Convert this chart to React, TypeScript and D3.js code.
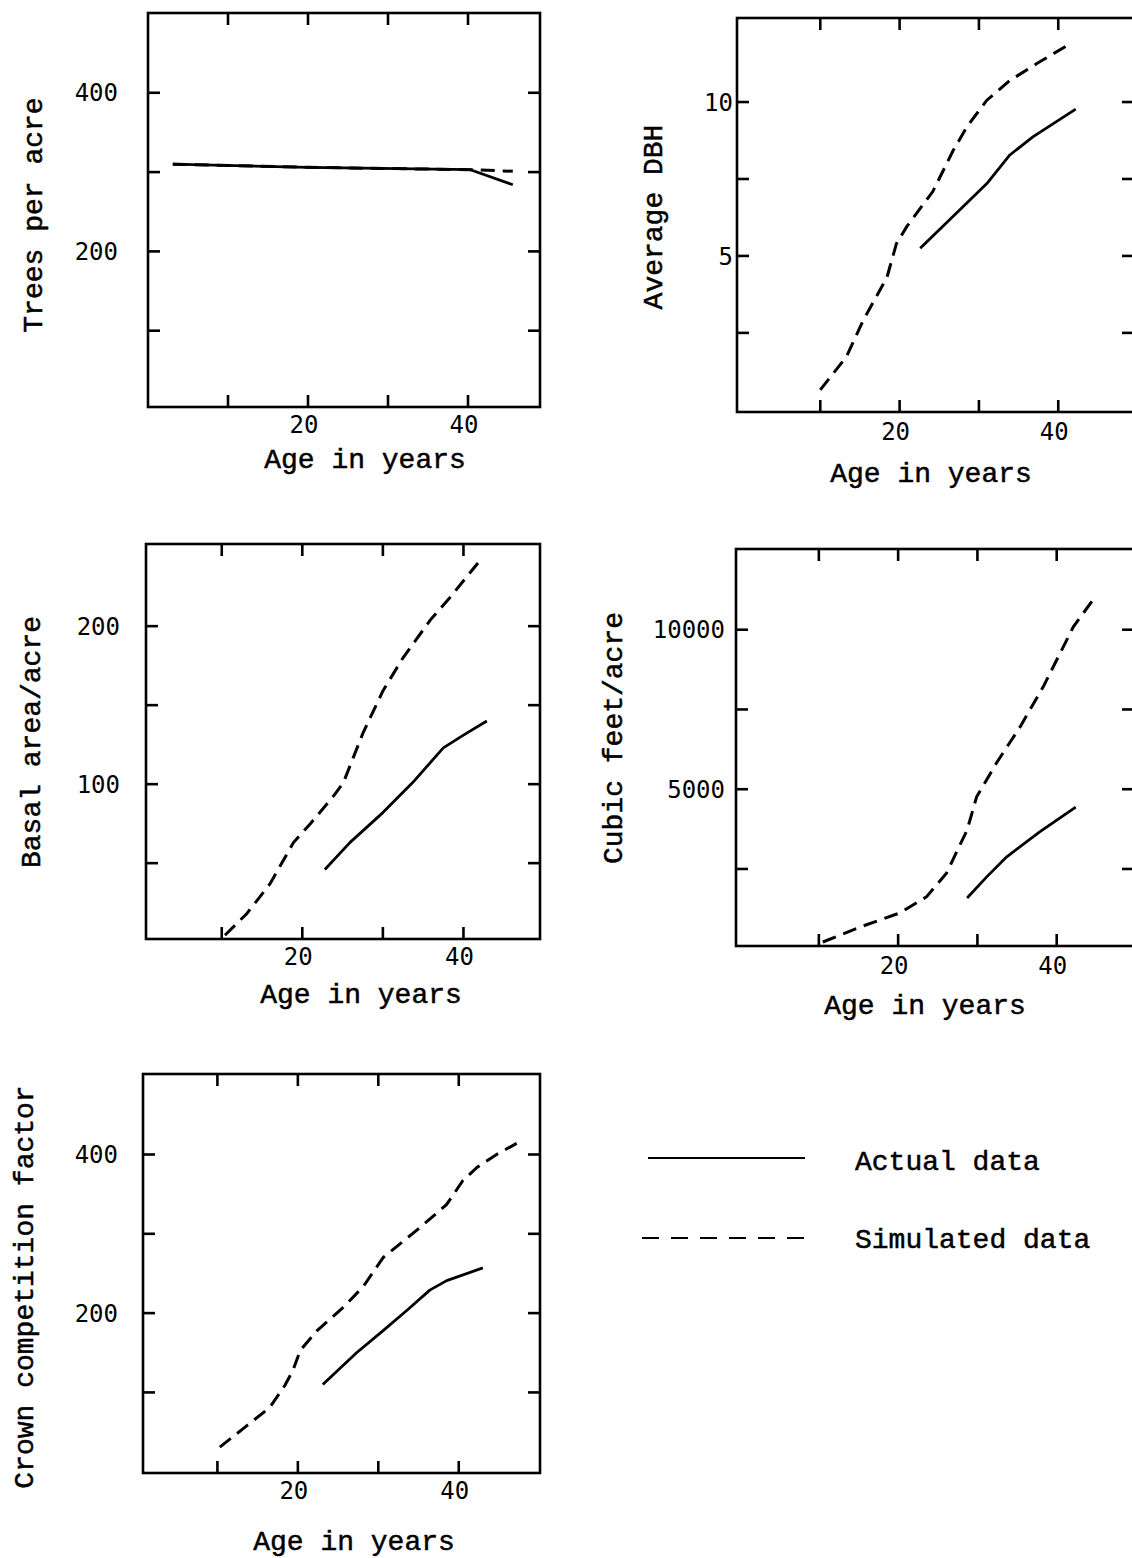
import React from "react";
import * as d3 from "d3";

// ---------- data (age in years, value) ----------
const treesActual: [number, number][] = [[3.1, 310], [20, 306], [40.3, 303], [45.6, 284]];
const treesSimulated: [number, number][] = [[3.1, 310], [20, 306], [40.3, 303], [45.6, 301]];

const dbhActual: [number, number][] = [[22.6, 5.25], [27.6, 6.5], [31, 7.35], [33.9, 8.28], [36.8, 8.87], [42.2, 9.77]];
const dbhSimulated: [number, number][] = [
  [10, 0.65], [13.3, 1.73], [15.4, 2.9], [18.4, 4.3], [19.6, 5.4], [20.9, 5.95], [24.2, 7.1],
  [26.7, 8.4], [28.5, 9.2], [31, 10.06], [33.9, 10.7], [37.3, 11.25], [41.2, 11.85],
];

const basalActual: [number, number][] = [[22.8, 46], [25.9, 63], [30, 82], [33.7, 101], [37.5, 123], [40, 131], [42.9, 140]];
const basalSimulated: [number, number][] = [
  [10.4, 4.4], [13.1, 18], [16, 37], [18.9, 63], [21, 75], [23.8, 92], [25.1, 101], [27.5, 132],
  [30, 159], [32.5, 180], [35.9, 204], [38.3, 218], [41.8, 240],
];

const cubicActual: [number, number][] = [[28.7, 1590], [31.2, 2260], [33.7, 2880], [37.9, 3670], [42.4, 4440]];
const cubicSimulated: [number, number][] = [
  [10.5, 210], [15.2, 680], [20.2, 1120], [23.6, 1630], [26.1, 2370], [28.7, 3720], [29.9, 4760],
  [32.4, 5820], [35.4, 6960], [38.3, 8210], [42.1, 10090], [44.5, 10910],
];

const ccfActual: [number, number][] = [[23.1, 110], [27.3, 150], [30.6, 178], [33.5, 203], [36.4, 229], [38.5, 241], [43, 257]];
const ccfSimulated: [number, number][] = [
  [10.3, 31], [13.4, 56], [16.5, 81], [18.4, 109], [19.4, 128], [20.3, 153], [22.4, 178], [25.6, 207],
  [28.1, 233], [30.6, 270], [35.2, 308], [38.5, 337], [40.5, 367], [42.3, 384], [44.7, 400], [47.2, 414],
];

const xTicks = [10, 20, 30, 40];
const xTickLabels = [20, 40];

const yLabels = ["Trees per acre", "Average DBH", "Basal area/acre", "Cubic feet/acre", "Crown competition factor"];
const xLabel = "Age in years";
const legendLabels = ["Actual data", "Simulated data"];

const LABEL_FONT = "'Liberation Mono', 'Liberation Serif'";
const TICK_FONT = "'DejaVu Sans Mono', monospace";

type PanelCfg = {
  box: [number, number, number, number]; // x0, y0, x1, y1
  xDomain: [number, number];
  yDomain: [number, number];
  yTicks: number[];
  yTickLabels: number[];
  yLabelRightGap: number;
  xLabelDy: number;
  xTitle: [number, number];
  yTitle: [number, number];
  yTitle_text: string;
  actual: [number, number][];
  simulated: [number, number][];
};

const panels: PanelCfg[] = [
  {
    box: [148, 13, 540, 407], xDomain: [0, 49], yDomain: [3.8, 500.6],
    yTicks: [100, 200, 300, 400], yTickLabels: [200, 400], yLabelRightGap: 30,
    xLabelDy: 26, xTitle: [365, 468], yTitle: [42, 215], yTitle_text: yLabels[0],
    actual: treesActual, simulated: treesSimulated,
  },
  {
    box: [737, 18, 1134, 412], xDomain: [-0.5, 49.55], yDomain: [-0.07, 12.73],
    yTicks: [2.5, 5, 7.5, 10], yTickLabels: [5, 10], yLabelRightGap: 4,
    xLabelDy: 28, xTitle: [931, 482], yTitle: [662, 217], yTitle_text: yLabels[1],
    actual: dbhActual, simulated: dbhSimulated,
  },
  {
    box: [146, 544, 540, 939], xDomain: [0.6, 49.5], yDomain: [2, 252],
    yTicks: [50, 100, 150, 200], yTickLabels: [100, 200], yLabelRightGap: 26,
    xLabelDy: 26, xTitle: [361, 1003], yTitle: [40, 742], yTitle_text: yLabels[2],
    actual: basalActual, simulated: basalSimulated,
  },
  {
    box: [736, 549, 1134, 946], xDomain: [-0.45, 49.75], yDomain: [85, 12530],
    yTicks: [2500, 5000, 7500, 10000], yTickLabels: [5000, 10000], yLabelRightGap: 11,
    xLabelDy: 28, xTitle: [925, 1014], yTitle: [622, 738], yTitle_text: yLabels[3],
    actual: cubicActual, simulated: cubicSimulated,
  },
  {
    box: [143, 1074, 540, 1473], xDomain: [0.75, 50.1], yDomain: [-1.6, 501.5],
    yTicks: [100, 200, 300, 400], yTickLabels: [200, 400], yLabelRightGap: 25,
    xLabelDy: 26, xTitle: [354, 1550], yTitle: [33, 1287], yTitle_text: yLabels[4],
    actual: ccfActual, simulated: ccfSimulated,
  },
];

const TICK = 12;
const SW = 2.6;

function Panel({ p }: { p: PanelCfg }) {
  const [x0, y0, x1, y1] = p.box;
  const x = d3.scaleLinear().domain(p.xDomain).range([x0, x1]);
  const y = d3.scaleLinear().domain(p.yDomain).range([y1, y0]);
  const line = d3.line<[number, number]>().x((d) => x(d[0])).y((d) => y(d[1]));
  return (
    <g>
      <rect x={x0} y={y0} width={x1 - x0} height={y1 - y0} fill="none" stroke="#000" strokeWidth={SW} />
      {xTicks.map((t) => (
        <g key={"xt" + t}>
          <line x1={x(t)} x2={x(t)} y1={y0} y2={y0 + TICK} stroke="#000" strokeWidth={SW} />
          <line x1={x(t)} x2={x(t)} y1={y1} y2={y1 - TICK} stroke="#000" strokeWidth={SW} />
        </g>
      ))}
      {p.yTicks.map((t) => (
        <g key={"yt" + t}>
          <line x1={x0} x2={x0 + TICK} y1={y(t)} y2={y(t)} stroke="#000" strokeWidth={SW} />
          <line x1={x1} x2={x1 - TICK} y1={y(t)} y2={y(t)} stroke="#000" strokeWidth={SW} />
        </g>
      ))}
      {xTickLabels.map((t) => (
        <text key={"xl" + t} x={x(t) - 4} y={y1 + p.xLabelDy} textAnchor="middle"
          fontFamily={TICK_FONT} fontSize={24} fill="#000">{t}</text>
      ))}
      {p.yTickLabels.map((t) => (
        <text key={"yl" + t} x={x0 - p.yLabelRightGap} y={y(t)} dy="0.36em" textAnchor="end"
          fontFamily={TICK_FONT} fontSize={24} fill="#000">{t}</text>
      ))}
      <text x={p.xTitle[0]} y={p.xTitle[1]} textAnchor="middle" fontFamily={LABEL_FONT} fontSize={28}
        fill="#000" stroke="#000" strokeWidth={0.5}>{xLabel}</text>
      <text transform={`translate(${p.yTitle[0]},${p.yTitle[1]}) rotate(-90)`} textAnchor="middle"
        fontFamily={LABEL_FONT} fontSize={28} fill="#000" stroke="#000" strokeWidth={0.5}>{p.yTitle_text}</text>
      <path d={line(p.simulated) || ""} fill="none" stroke="#000" strokeWidth={3} strokeDasharray="14 8" />
      <path d={line(p.actual) || ""} fill="none" stroke="#000" strokeWidth={2.8} strokeLinejoin="round" />
    </g>
  );
}

export default function App() {
  return (
    <svg width={1132} height={1558} style={{ position: "absolute", left: 0, top: 0, background: "#fff" }}>
      <rect x={0} y={0} width={1132} height={1558} fill="#fff" />
      {panels.map((p, i) => <Panel key={i} p={p} />)}
      <g>
        <line x1={648} x2={805} y1={1158} y2={1158} stroke="#000" strokeWidth={2.2} />
        <line x1={642} x2={805} y1={1238} y2={1238} stroke="#000" strokeWidth={2.2} strokeDasharray="17 12" />
        <text x={855} y={1170} fontFamily={LABEL_FONT} fontSize={28} fill="#000" stroke="#000" strokeWidth={0.5}>{legendLabels[0]}</text>
        <text x={855} y={1248} fontFamily={LABEL_FONT} fontSize={28} fill="#000" stroke="#000" strokeWidth={0.5}>{legendLabels[1]}</text>
      </g>
    </svg>
  );
}
